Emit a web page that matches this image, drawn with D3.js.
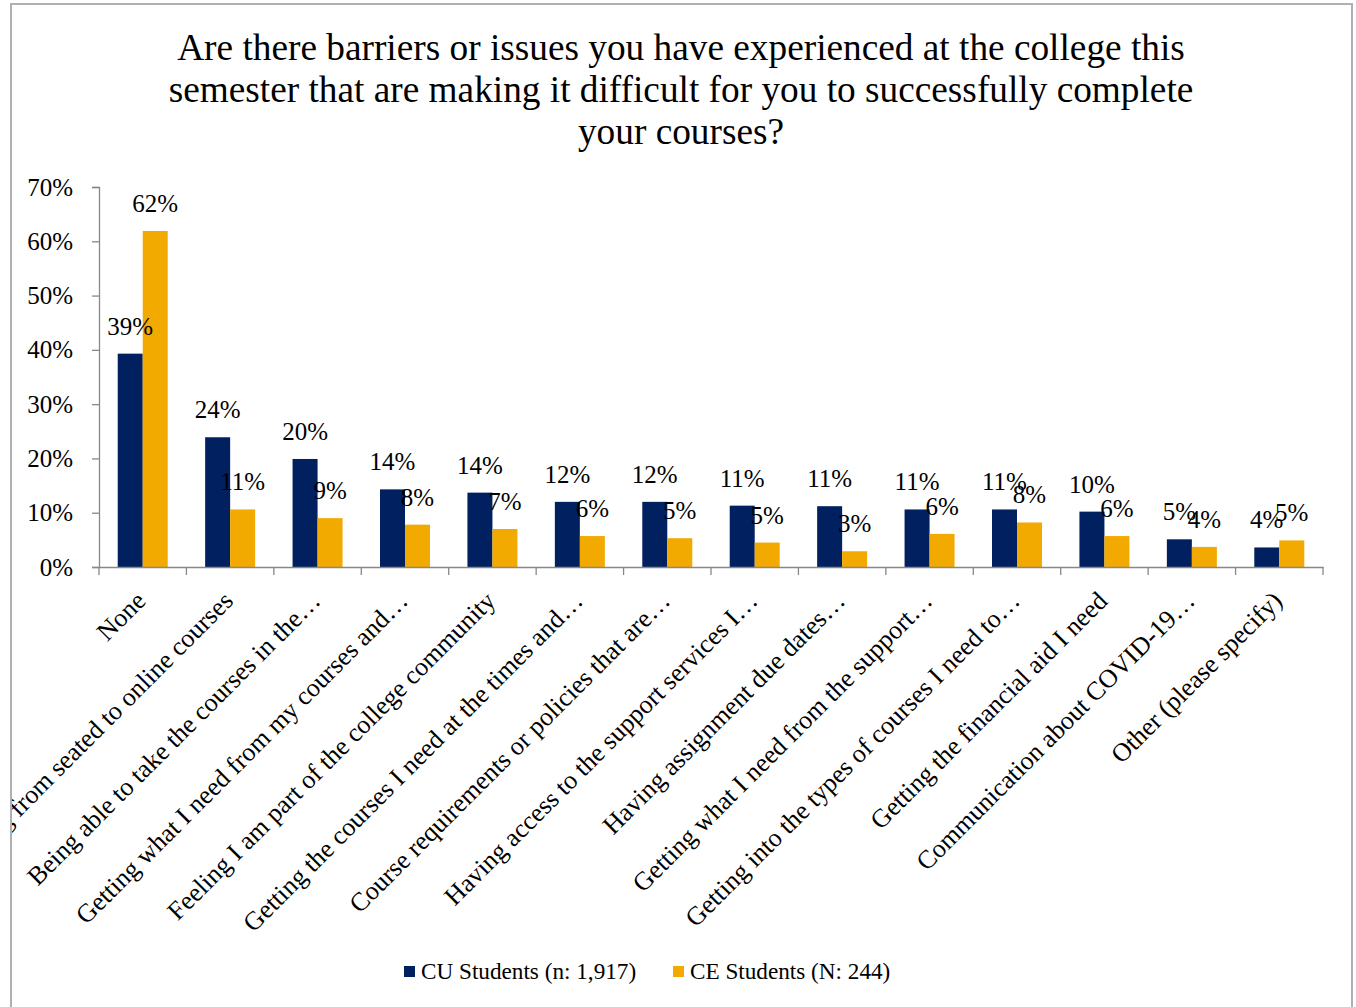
<!DOCTYPE html>
<html>
<head>
<meta charset="utf-8">
<script src="https://cdn.jsdelivr.net/npm/d3@7"></script>
<style>
  body { margin: 0; background: #fff; }
  svg { display: block; }
  text { font-family: "Liberation Serif", "Times New Roman", serif; fill: #000; }
</style>
</head>
<body>
<svg id="chart" width="1356" height="1007"></svg>
<script>
const titleLines = [
  "Are there barriers or issues you have experienced at the college this",
  "semester that are making it difficult for you to successfully complete",
  "your courses?"
];
const categories = [
  "None",
  "Switching from seated to online courses",
  "Being able to take the courses in the…",
  "Getting what I need from my courses and…",
  "Feeling I am part of the college community",
  "Getting the courses I need at the times and…",
  "Course requirements or policies that are…",
  "Having access to the support services I…",
  "Having assignment due dates…",
  "Getting what I need from the support…",
  "Getting into the types of courses I need to…",
  "Getting the financial aid I need",
  "Communication about COVID-19…",
  "Other (please specify)"
];
const cuValues = [39.3, 23.9, 19.9, 14.3, 13.7, 12.0, 12.0, 11.3, 11.2, 10.6, 10.6, 10.2, 5.1, 3.6];
const ceValues = [61.9, 10.6, 9.0, 7.8, 7.0, 5.7, 5.3, 4.5, 2.9, 6.1, 8.2, 5.7, 3.7, 4.9];
const cuLabels = ["39%", "24%", "20%", "14%", "14%", "12%", "12%", "11%", "11%", "11%", "11%", "10%", "5%", "4%"];
const ceLabels = ["62%", "11%", "9%", "8%", "7%", "6%", "5%", "5%", "3%", "6%", "8%", "6%", "4%", "5%"];
const yTicks = [0, 10, 20, 30, 40, 50, 60, 70];
const seriesNames = ["CU Students (n: 1,917)", "CE Students (N: 244)"];
const seriesColors = ["#002060", "#F2A900"];

const svg = d3.select("#chart");

// frame
svg.append("defs").append("clipPath").attr("id", "frameClip")
  .append("rect").attr("x", 12).attr("y", 5).attr("width", 1338).attr("height", 1010);

svg.append("rect").attr("x", 11).attr("y", 4).attr("width", 1341).attr("height", 1010)
  .attr("fill", "#fff").attr("stroke", "#b0b0b0").attr("stroke-width", 2);

// title
svg.append("g").selectAll("text").data(titleLines).join("text")
  .attr("x", 681).attr("y", (d, i) => 60 + i * 42)
  .attr("text-anchor", "middle").style("font-size", "37.3px").text(d => d);

const x0 = d3.scaleBand().domain(categories).range([99, 1323]).paddingInner(0).paddingOuter(0);
const x1 = d3.scaleBand().domain([0, 1]).range([x0.bandwidth() / 2 - 25, x0.bandwidth() / 2 + 25]);
const y = d3.scaleLinear().domain([0, 70]).range([567, 187]);

// y axis
const yAxis = svg.append("g").attr("transform", "translate(99,0)")
  .call(d3.axisLeft(y).tickValues(yTicks).tickFormat(d => d + "%").tickSize(7).tickPadding(19));
yAxis.select(".domain").attr("stroke", "#888").attr("stroke-width", 1.3);
yAxis.selectAll(".tick line").attr("stroke", "#888").attr("stroke-width", 1.3);
yAxis.selectAll("text").style("font-size", "25px").style("font-family", "Liberation Serif").attr("fill", "#000");

// bars
const groups = svg.append("g").selectAll("g").data(categories).join("g")
  .attr("transform", d => `translate(${x0(d)},0)`);
[cuValues, ceValues].forEach((vals, s) => {
  groups.append("rect")
    .attr("x", x1(s)).attr("width", x1.bandwidth())
    .attr("y", (d, i) => y(vals[i])).attr("height", (d, i) => y(0) - y(vals[i]))
    .attr("fill", seriesColors[s]);
});

// x axis
const xAxis = svg.append("g").attr("transform", "translate(0,567)")
  .call(d3.axisBottom(x0).tickSize(0).tickFormat(""));
xAxis.select(".domain").attr("stroke", "#888").attr("stroke-width", 1.3);
const tickPos = d3.range(categories.length + 1).map(i => 99 + i * x0.bandwidth());
svg.append("g").selectAll("line").data(tickPos).join("line")
  .attr("x1", d => d).attr("x2", d => d).attr("y1", 567).attr("y2", 575)
  .attr("stroke", "#888").attr("stroke-width", 1.3);

// value labels
[[cuLabels, cuValues], [ceLabels, ceValues]].forEach(([labs, vals], s) => {
  groups.append("text")
    .attr("x", x1(s) + x1.bandwidth() / 2)
    .attr("y", (d, i) => y(vals[i]) - 19)
    .attr("text-anchor", "middle").style("font-size", "25px")
    .text((d, i) => labs[i]);
});

// category labels
svg.append("g").attr("clip-path", "url(#frameClip)")
  .selectAll("text").data(categories).join("text")
  .attr("transform", d => `translate(${x0(d) + x0.bandwidth() / 2 - 2},${596}) rotate(-45)`)
  .attr("text-anchor", "end").attr("dy", "0.35em").style("font-size", "26px")
  .text(d => d);

// legend
const legend = svg.append("g");
const legX = [404, 673];
seriesNames.forEach((n, i) => {
  legend.append("rect").attr("x", legX[i]).attr("y", 966).attr("width", 11).attr("height", 11).attr("fill", seriesColors[i]);
  legend.append("text").attr("x", legX[i] + 17).attr("y", 979).style("font-size", "23.2px").text(n);
});
</script>
</body>
</html>
